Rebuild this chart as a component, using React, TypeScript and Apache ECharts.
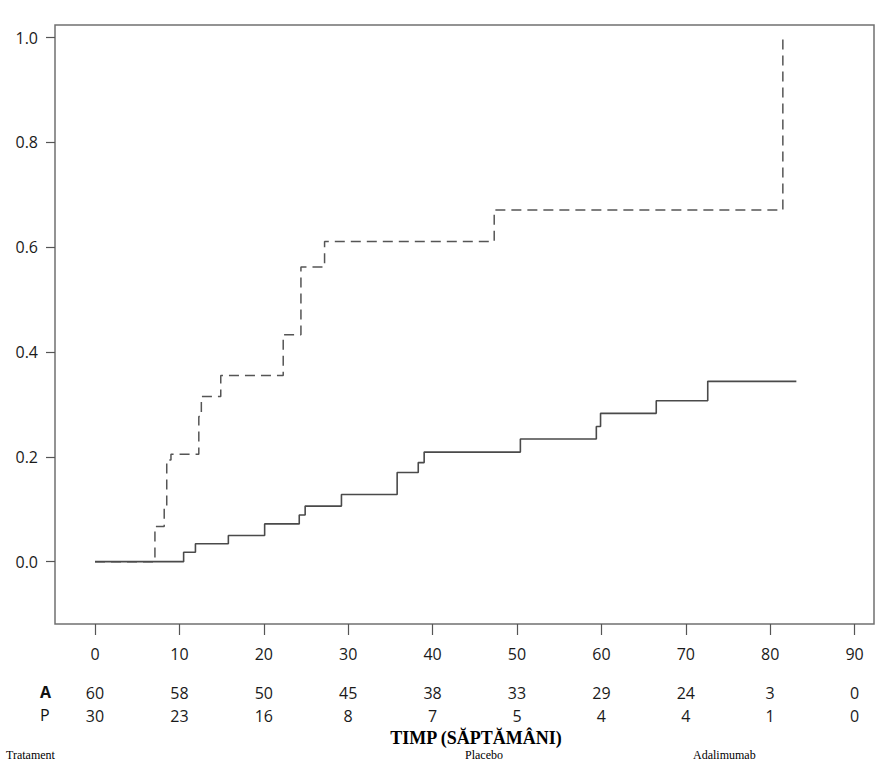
import React, { useEffect, useRef } from "react";
import * as echarts from "echarts";

const weeks = [0, 10, 20, 30, 40, 50, 60, 70, 80, 90];
const atRiskA = [60, 58, 50, 45, 38, 33, 29, 24, 3, 0];
const atRiskP = [30, 23, 16, 8, 7, 5, 4, 4, 1, 0];
const yTicks = [0, 0.2, 0.4, 0.6, 0.8, 1.0];

// Adalimumab (solid) cumulative incidence steps
const adaTimes = [0, 10.5, 11.9, 15.8, 20.1, 24.2, 24.9, 29.2, 35.8, 38.3, 39.0, 50.4, 59.4, 59.9, 66.5, 72.6, 83.1];
const adaValues = [0, 0.018, 0.034, 0.05, 0.072, 0.089, 0.106, 0.128, 0.17, 0.189, 0.209, 0.234, 0.258, 0.283, 0.307, 0.344, 0.344];

// Placebo (dashed) cumulative incidence steps
const plaTimes = [0, 7.1, 8.2, 8.5, 9.0, 12.3, 12.6, 14.9, 22.3, 24.4, 27.2, 47.3, 81.5];
const plaValues = [0, 0.067, 0.102, 0.194, 0.205, 0.277, 0.315, 0.355, 0.433, 0.562, 0.611, 0.671, 1.0];

const title = "TIMP (SĂPTĂMÂNI)";
const rowLabels = ["A", "P"];
const footer = ["Tratament", "Placebo", "Adalimumab"];

export default function App() {
  const ref = useRef<HTMLDivElement>(null);
  useEffect(() => {
    if (!ref.current) return;
    const chart = echarts.init(ref.current, null, { renderer: "svg" });
    const font = "'Open Sans', sans-serif";
    const labelColor = "#1a1a1a";
    const riskAxis = (vals: number[], margin: number) => ({
      type: "value",
      min: -4.74,
      max: 92.3,
      position: "bottom",
      axisLine: { show: false, onZero: false },
      axisTick: { show: false },
      splitLine: { show: false },
      axisLabel: {
        customValues: weeks,
        margin,
        fontFamily: font,
        fontSize: 16,
        color: labelColor,
        formatter: (v: number) => String(vals[Math.round(v / 10)]),
      },
    });
    chart.setOption({
      animation: false,
      backgroundColor: "#ffffff",
      grid: {
        show: true,
        left: 55,
        top: 25,
        width: 819,
        height: 599,
        borderColor: "#707070",
        borderWidth: 1.5,
        backgroundColor: "transparent",
      },
      xAxis: [
        {
          type: "value",
          min: -4.74,
          max: 92.3,
          position: "bottom",
          axisLine: { show: false, onZero: false },
          splitLine: { show: false },
          axisTick: {
            show: true,
            customValues: weeks,
            length: 11,
            lineStyle: { color: "#555", width: 1.2 },
          },
          axisLabel: {
            customValues: weeks,
            margin: 22,
            fontFamily: font,
            fontSize: 16,
            color: labelColor,
          },
        },
        riskAxis(atRiskA, 61),
        riskAxis(atRiskP, 84),
      ],
      yAxis: {
        type: "value",
        min: -0.119,
        max: 1.024,
        position: "left",
        axisLine: { show: false, onZero: false },
        splitLine: { show: false },
        axisTick: {
          show: true,
          customValues: yTicks,
          length: 9,
          lineStyle: { color: "#555", width: 1.2 },
        },
        axisLabel: {
          customValues: yTicks,
          margin: 17,
          fontFamily: font,
          fontSize: 16,
          color: labelColor,
          formatter: (v: number) => v.toFixed(1),
        },
      },
      series: [
        {
          name: "Placebo",
          type: "line",
          step: "end",
          showSymbol: false,
          data: plaTimes.map((t, i) => [t, plaValues[i]]),
          lineStyle: { color: "#555", width: 1.5, type: [10, 6] },
        },
        {
          name: "Adalimumab",
          type: "line",
          step: "end",
          showSymbol: false,
          data: adaTimes.map((t, i) => [t, adaValues[i]]),
          lineStyle: { color: "#4a4a4a", width: 1.6 },
          z: 3,
        },
      ],
      graphic: [
        {
          type: "text",
          left: 40,
          top: 684,
          style: { text: rowLabels[0], font: `bold 16px ${font}`, fill: "#111" },
        },
        {
          type: "text",
          left: 40,
          top: 707,
          style: { text: rowLabels[1], font: `16px ${font}`, fill: "#111" },
        },
        {
          type: "text",
          x: 476,
          y: 738,
          style: {
            text: title,
            font: "bold 18px 'Liberation Serif', 'Times New Roman', serif",
            fill: "#000",
            align: "center",
            verticalAlign: "middle",
          },
        },
        {
          type: "text",
          x: 6,
          y: 749,
          style: { text: footer[0], font: "12px 'Liberation Serif', serif", fill: "#000" },
        },
        {
          type: "text",
          x: 465,
          y: 749,
          style: { text: footer[1], font: "12px 'Liberation Serif', serif", fill: "#000" },
        },
        {
          type: "text",
          x: 693,
          y: 749,
          style: { text: footer[2], font: "12px 'Liberation Serif', serif", fill: "#000" },
        },
      ],
    });
    return () => chart.dispose();
  }, []);
  return (
    <div
      ref={ref}
      style={{ position: "fixed", left: 0, top: 0, width: 890, height: 763, overflow: "hidden" }}
    />
  );
}
